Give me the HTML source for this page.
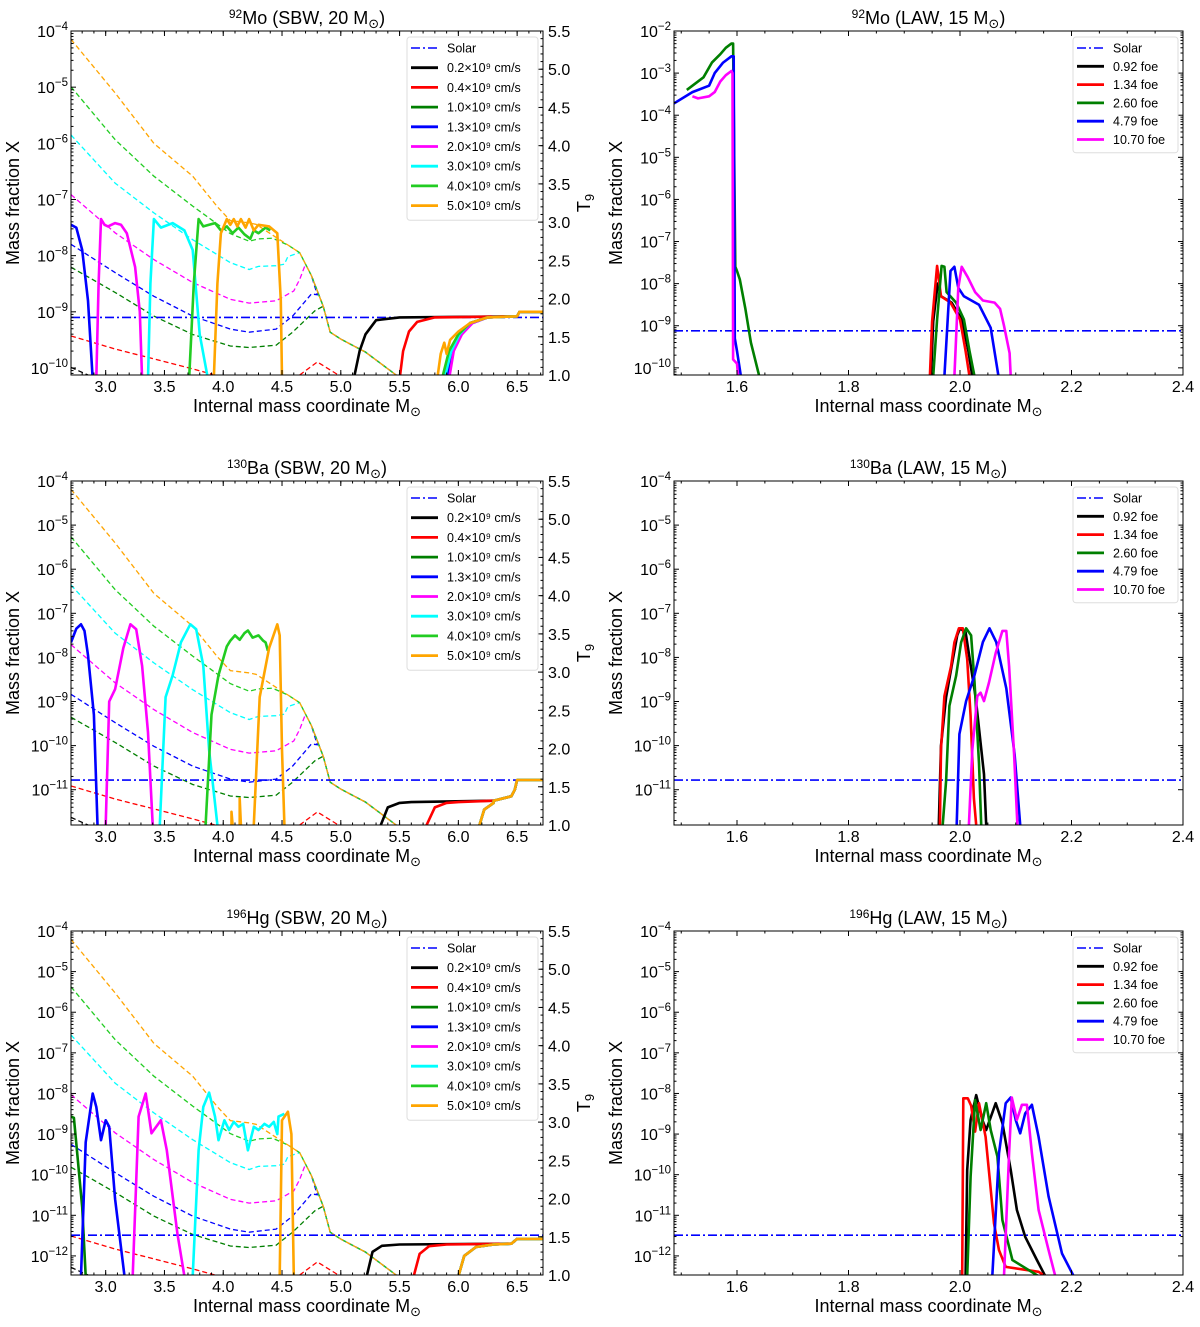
<!DOCTYPE html>
<html><head><meta charset="utf-8"><style>
body{margin:0;background:#fff}
svg{display:block;font-family:"Liberation Sans","DejaVu Sans",sans-serif}
</style></head><body>
<svg id="fig" width="1200" height="1327" viewBox="0 0 1200 1327" xmlns="http://www.w3.org/2000/svg"></svg>
<script>
// ---------- DATA ----------
const sbwLabels = ["0.2×10⁹ cm/s","0.4×10⁹ cm/s","1.0×10⁹ cm/s","1.3×10⁹ cm/s","2.0×10⁹ cm/s","3.0×10⁹ cm/s","4.0×10⁹ cm/s","5.0×10⁹ cm/s"];
const sbwColors = ["#000000","#ff0000","#007f00","#0000ff","#ff00ff","#00ffff","#22cc22","#ffa500"];
const lawLabels = ["0.92 foe","1.34 foe","2.60 foe","4.79 foe","10.70 foe"];
const lawColors = ["#000000","#ff0000","#007f00","#0000ff","#ff00ff"];
const solarLog = [-9.1, -10.78, -11.49];
const lawSolarLog = [-9.12, -10.78, -11.49];
const t9Ticks = [1.0,1.5,2.0,2.5,3.0,3.5,4.0,4.5,5.0,5.5];
const sbwXTicks = [3.0,3.5,4.0,4.5,5.0,5.5,6.0,6.5];
const lawXTicks = [1.6,1.8,2.0,2.2,2.4];

const t9Tail = [[4.75,2.3],[4.85,1.9],[4.91,1.56],[5.0,1.47],[5.21,1.30],[5.47,1.0]];
const t9Black = [[2.705,1.10],[2.85,1.0]];
const t9Red = [[2.705,1.51],[3.08,1.34],[3.41,1.21],[3.74,1.08],[3.93,1.0]];
const t9RedBump = [[4.65,1.0],[4.8,1.17],[4.98,1.0]];
const t9DGreen = [[2.705,2.41],[3.08,2.08],[3.41,1.77],[3.74,1.53],[4.06,1.38],[4.22,1.36],[4.45,1.39],[4.59,1.56],[4.78,1.84],[4.85,1.9]];
const t9Blue = [[2.705,2.71],[3.08,2.34],[3.41,2.03],[3.74,1.77],[4.06,1.60],[4.22,1.56],[4.45,1.60],[4.59,1.77],[4.75,2.06],[4.8,2.05]];
const t9Magenta = [[2.705,3.36],[3.08,2.86],[3.41,2.51],[3.74,2.21],[4.06,1.99],[4.22,1.94],[4.45,1.97],[4.6,2.1],[4.65,2.25]];
const t9Cyan = [[2.705,4.14],[3.08,3.51],[3.41,3.12],[3.74,2.77],[4.06,2.47],[4.22,2.38],[4.3,2.42],[4.45,2.43],[4.52,2.45],[4.55,2.55],[4.65,2.6]];
const t9LGreen = [[2.705,4.77],[3.08,4.08],[3.41,3.60],[3.74,3.21],[3.9,3.03],[4.06,2.85],[4.22,2.75],[4.3,2.78],[4.42,2.79],[4.55,2.7],[4.65,2.6]];
const t9Orange = [[2.705,5.39],[3.08,4.69],[3.41,4.03],[3.74,3.60],[3.95,3.2],[4.06,3.02],[4.22,2.99],[4.28,2.97],[4.4,2.85],[4.55,2.7],[4.65,2.6]];

const moEnd = [[6.5,-9.08],[6.52,-9.0],[6.72,-9.0]];
const moBlack = [[[5.11,-10.2],[5.16,-9.7],[5.21,-9.4],[5.3,-9.15],[5.5,-9.1]]];
const moRed = [[[2.5,-12]],[[5.5,-10.2],[5.53,-9.7],[5.58,-9.35],[5.65,-9.18],[5.8,-9.1]]];
const moDGreen = [[[5.87,-10.2],[5.93,-9.7],[6.0,-9.4],[6.1,-9.2],[6.25,-9.1]]];
const moBlue = [[[2.705,-7.45],[2.75,-7.5],[2.8,-7.9],[2.85,-8.8],[2.89,-10.2]],[[5.9,-10.2],[5.95,-9.7],[6.02,-9.4],[6.12,-9.2],[6.25,-9.1]]];
const moMagenta = [[[2.92,-10.2],[2.94,-8.5],[2.96,-7.35],[2.99,-7.45],[3.02,-7.48],[3.08,-7.42],[3.13,-7.45],[3.18,-7.6],[3.25,-8.2],[3.29,-9],[3.31,-10.2]],[[5.92,-10.2],[5.96,-9.7],[6.03,-9.4],[6.12,-9.2],[6.25,-9.1]]];
const moCyan = [[[3.36,-10.2],[3.38,-8.5],[3.41,-7.35],[3.47,-7.5],[3.57,-7.42],[3.67,-7.55],[3.74,-7.9],[3.8,-9.4],[3.87,-10.2]],[[5.88,-10.2],[5.94,-9.7],[6.01,-9.4],[6.1,-9.2],[6.25,-9.1]]];
const moLGreen = [[[3.71,-10.2],[3.75,-8.5],[3.79,-7.35],[3.83,-7.48],[3.88,-7.45],[3.93,-7.42],[3.98,-7.55],[4.03,-7.48],[4.08,-7.6],[4.13,-7.5],[4.18,-7.62],[4.23,-7.7],[4.26,-7.55],[4.3,-7.6],[4.36,-7.5],[4.4,-7.55]],[[5.86,-10.2],[5.92,-9.7],[6.0,-9.4],[6.1,-9.2],[6.25,-9.1]]];
const moOrange = [[[3.92,-10.2],[3.95,-8.5],[3.98,-7.6],[4.03,-7.35],[4.06,-7.45],[4.09,-7.35],[4.12,-7.48],[4.15,-7.35],[4.19,-7.5],[4.22,-7.35],[4.26,-7.55],[4.3,-7.45],[4.39,-7.48],[4.46,-7.6],[4.49,-8.8],[4.5,-10.2]],[[5.82,-10.2],[5.85,-9.75],[5.88,-9.55],[5.9,-9.75],[5.93,-9.5],[6.0,-9.35],[6.1,-9.2],[6.25,-9.1]]];

const baEnd = [[6.3,-11.25],[6.45,-11.15],[6.48,-11.0],[6.5,-10.78],[6.72,-10.78]];
const baLate = [[6.18,-11.8],[6.22,-11.45],[6.3,-11.3]];
const baBlack = [[[5.34,-11.8],[5.4,-11.4],[5.5,-11.3],[5.6,-11.28]]];
const baRed = [[[5.73,-11.8],[5.8,-11.4],[5.9,-11.3],[6.0,-11.28]]];
const baBlue = [[[2.705,-7.66],[2.75,-7.35],[2.79,-7.25],[2.82,-7.4],[2.85,-7.95],[2.9,-9.3],[2.93,-11.8]]];
const baMagenta = [[[3.0,-11.8],[3.03,-9.0],[3.08,-8.72],[3.15,-7.79],[3.21,-7.25],[3.26,-7.36],[3.31,-8.19],[3.36,-9.7],[3.4,-11.8]]];
const baCyan = [[[3.46,-11.8],[3.51,-8.9],[3.57,-8.4],[3.64,-7.66],[3.72,-7.25],[3.77,-7.36],[3.83,-8.19],[3.88,-10.1],[3.95,-11.8]]];
const baLGreen = [[[3.85,-11.8],[3.9,-9.3],[3.96,-8.4],[4.03,-7.75],[4.06,-7.62],[4.1,-7.5],[4.14,-7.6],[4.18,-7.45],[4.21,-7.39],[4.25,-7.55],[4.3,-7.5],[4.34,-7.62],[4.36,-7.66],[4.38,-7.85]]];
const baOrange = [[[4.07,-11.8],[4.07,-11.5],[4.08,-11.8]],[[4.14,-11.8],[4.14,-11.2],[4.15,-11.8]],[[4.26,-11.8],[4.31,-8.9],[4.39,-7.79],[4.46,-7.25],[4.48,-7.5],[4.5,-10.1],[4.52,-11.8]]];

const hgEnd = [[6.45,-11.7],[6.5,-11.58],[6.72,-11.58]];
const hgLate = [[6.0,-12.5],[6.05,-12.0],[6.15,-11.78],[6.3,-11.72]];
const hgBlack = [[[5.22,-12.5],[5.27,-11.9],[5.35,-11.75],[5.5,-11.72]]];
const hgRed = [[[5.62,-12.5],[5.67,-11.95],[5.75,-11.76],[5.9,-11.72]]];
const hgDGreen = [[[2.705,-8.57],[2.73,-8.6],[2.76,-9.55],[2.8,-10.8],[2.83,-12.5]]];
const hgBlue = [[[2.79,-12.5],[2.83,-9.2],[2.89,-8.0],[2.92,-8.33],[2.96,-9.15],[3.0,-8.66],[3.03,-8.82],[3.08,-10.6],[3.16,-12.5]]];
const hgMagenta = [[[3.23,-12.5],[3.28,-8.57],[3.34,-8.0],[3.39,-8.98],[3.47,-8.66],[3.52,-9.4],[3.61,-11.45],[3.67,-12.5]]];
const hgCyan = [[[3.74,-12.5],[3.79,-9.4],[3.83,-8.33],[3.88,-7.98],[3.93,-8.57],[3.96,-9.15],[4.01,-8.66],[4.05,-8.9],[4.09,-8.7],[4.13,-8.82],[4.17,-8.75],[4.21,-9.4],[4.26,-8.82],[4.3,-8.9],[4.35,-8.75],[4.39,-8.82],[4.43,-8.7],[4.46,-9.0],[4.47,-8.57],[4.52,-8.5]]];
const hgLGreen = [[[2.5,-14]]];
const hgOrange = [[[4.48,-12.5],[4.5,-8.66],[4.55,-8.45],[4.58,-9.0],[4.6,-12.5]]];

const lmBlack = [[[1.948,-10.2],[1.952,-8.9],[1.96,-8.0],[1.966,-8.3],[1.985,-8.45],[2.003,-8.85],[2.015,-9.6],[2.022,-10.2]]];
const lmRed = [[[1.946,-10.2],[1.95,-8.9],[1.959,-7.58],[1.966,-8.3],[1.983,-8.45],[2.0,-8.85],[2.01,-9.6],[2.017,-10.2]]];
const lmGreen = [[[1.51,-3.4],[1.54,-3.1],[1.555,-2.75],[1.57,-2.55],[1.58,-2.4],[1.59,-2.3],[1.593,-2.3],[1.597,-7.6],[1.6,-7.7],[1.605,-7.9],[1.615,-8.6],[1.625,-9.4],[1.64,-10.2]],[[1.952,-10.2],[1.959,-8.85],[1.967,-7.58],[1.972,-7.6],[1.976,-8.2],[1.993,-8.45],[2.007,-8.85],[2.017,-9.6],[2.026,-10.2]]];
const lmBlue = [[[1.487,-3.72],[1.52,-3.45],[1.55,-3.3],[1.56,-3.0],[1.575,-2.75],[1.59,-2.6],[1.594,-2.6],[1.596,-9.3],[1.6,-9.6],[1.607,-10.2]],[[1.972,-10.2],[1.976,-9.3],[1.983,-7.7],[1.99,-7.6],[1.997,-8.1],[2.007,-8.3],[2.034,-8.5],[2.055,-9.05],[2.069,-10.2]]];
const lmMagenta = [[[1.52,-3.55],[1.53,-3.6],[1.55,-3.55],[1.56,-3.45],[1.57,-3.2],[1.58,-3.05],[1.59,-2.95],[1.592,-3.0],[1.593,-9.8],[1.6,-9.9],[1.602,-10.2]],[[1.99,-10.2],[1.997,-8.1],[2.003,-7.6],[2.014,-7.85],[2.027,-8.2],[2.041,-8.4],[2.062,-8.45],[2.072,-8.6],[2.079,-9.0],[2.089,-9.65],[2.091,-10.2]]];

const lbBlack = [[[1.962,-11.8],[1.966,-10.0],[1.975,-8.9],[1.985,-8.2],[1.995,-7.5],[2.0,-7.34],[2.01,-7.43],[2.028,-8.9],[2.043,-10.65],[2.047,-11.8]]];
const lbRed = [[[1.964,-11.8],[1.966,-10.08],[1.972,-8.88],[1.984,-8.2],[1.99,-7.66],[1.998,-7.34],[2.005,-7.34],[2.013,-8.04],[2.019,-9.33],[2.025,-11.2],[2.029,-11.8]]];
const lbGreen = [[[1.969,-11.8],[1.975,-10.8],[1.981,-9.1],[1.993,-8.42],[2.002,-7.66],[2.011,-7.34],[2.02,-7.5],[2.026,-8.55],[2.034,-10.4],[2.038,-11.8]]];
const lbBlue = [[[1.994,-11.8],[1.999,-9.74],[2.011,-8.99],[2.026,-8.4],[2.041,-7.65],[2.053,-7.34],[2.065,-7.65],[2.083,-8.7],[2.098,-10.2],[2.108,-11.8]]];
const lbMagenta = [[[2.016,-11.8],[2.022,-10.1],[2.031,-8.88],[2.037,-8.8],[2.043,-8.99],[2.052,-8.57],[2.064,-7.9],[2.076,-7.4],[2.083,-7.4],[2.088,-8.2],[2.097,-10.2],[2.103,-11.8]]];

const lhBlack = [[[2.01,-12.5],[2.013,-9.88],[2.019,-8.65],[2.029,-8.04],[2.04,-8.65],[2.047,-8.9],[2.064,-8.24],[2.076,-8.73],[2.091,-9.88],[2.102,-10.87],[2.117,-11.53],[2.138,-12.1],[2.153,-12.5]]];
const lhRed = [[[2.004,-12.5],[2.006,-8.12],[2.014,-8.12],[2.02,-8.3],[2.027,-8.94],[2.034,-8.24],[2.046,-9.07],[2.053,-10.05],[2.061,-11.2],[2.07,-11.86],[2.082,-12.27],[2.141,-12.39],[2.153,-12.5]]];
const lhGreen = [[[2.013,-12.5],[2.019,-10.05],[2.027,-8.16],[2.037,-8.9],[2.047,-8.24],[2.055,-8.9],[2.067,-9.55],[2.076,-11.12],[2.094,-12.1],[2.141,-12.5]]];
const lhBlue = [[[2.058,-12.5],[2.07,-9.47],[2.082,-8.24],[2.091,-8.1],[2.1,-8.65],[2.108,-8.98],[2.117,-8.49],[2.129,-8.28],[2.141,-9.07],[2.159,-10.54],[2.183,-11.94],[2.204,-12.5]]];
const lhMagenta = [[[2.079,-12.5],[2.088,-9.47],[2.093,-8.1],[2.102,-8.65],[2.111,-8.28],[2.12,-8.28],[2.129,-9.47],[2.141,-10.87],[2.159,-11.86],[2.171,-12.5]]];

// ---------- DRAWING ----------
const NS="http://www.w3.org/2000/svg";
const svg=document.getElementById('fig');
function mk(tag,attrs,parent){const e=document.createElementNS(NS,tag);for(const k in attrs)e.setAttribute(k,attrs[k]);(parent||svg).appendChild(e);return e;}
let clipId=0;

function withTail(s){return s.concat(t9Tail);}
const t9Series=[[t9Black],[t9Red,t9RedBump],[withTail(t9DGreen)],[withTail(t9Blue)],[t9Magenta.concat([[4.7,2.45]],t9Tail.slice(0))],[withTail(t9Cyan)],[withTail(t9LGreen)],[withTail(t9Orange)]];

function expLabel(g,x,y,e,anchor){
  const t=mk('text',{x:x,y:y,'font-size':16,'text-anchor':anchor||'end',fill:'#000'},g);
  
  
  t.appendChild(document.createTextNode('10'));
  const s=mk('tspan',{dy:-7,'font-size':11.5},t);s.textContent='−'+e;
  return t;
}

function panel(cfg){
  const g=mk('g',{});
  
  
  const {x0,x1,y0,y1,xmin,xmax,lmin,lmax}=cfg;
  const sx=v=>x0+(v-xmin)/(xmax-xmin)*(x1-x0);
  const sy=l=>y0+(lmax-l)/(lmax-lmin)*(y1-y0);
  const st=t=>y1-(t-1.0)/4.5*(y1-y0);
  const id='c'+(clipId++);
  const cp=mk('clipPath',{id:id},g);mk('rect',{x:x0,y:y0,width:x1-x0,height:y1-y0},cp);
  const plot=mk('g',{'clip-path':'url(#'+id+')'},g);
  if(cfg.t9){
    t9Series.forEach((segs,i)=>{segs.forEach(seg=>{
      const p=mk('path',{d:seg.map((q,j)=>(j?'L':'M')+sx(q[0]).toFixed(1)+' '+st(q[1]).toFixed(1)).join(''),fill:'none',stroke:sbwColors[i],'stroke-width':1.3,'stroke-dasharray':'5,3'},plot);
      
      
    });});
  }
  const sl=mk('line',{x1:x0,x2:x1,y1:sy(cfg.solar),y2:sy(cfg.solar),stroke:'#0000ff','stroke-width':1.6,'stroke-dasharray':'9,3,2,3'},plot);
  
  
  cfg.series.forEach((segs,i)=>{segs.forEach(seg=>{
    if(seg.length<2)return;
    const p=mk('path',{d:seg.map((q,j)=>(j?'L':'M')+sx(q[0]).toFixed(1)+' '+sy(q[1]).toFixed(1)).join(''),fill:'none',stroke:cfg.colors[i],'stroke-width':2.6,'stroke-linejoin':'round'},plot);
    
    
  });});
  const fr=mk('rect',{x:x0,y:y0,width:x1-x0,height:y1-y0,fill:'none',stroke:'#000','stroke-width':1},g);
  
  
  cfg.xticks.forEach(v=>{const x=sx(v);
    mk('line',{x1:x,x2:x,y1:y1,y2:y1-5,stroke:'#000'},g);mk('line',{x1:x,x2:x,y1:y0,y2:y0+5,stroke:'#000'},g);
    const t=mk('text',{x:x,y:y1+17,'font-size':16,'text-anchor':'middle'},g);
    
    
    t.textContent=v.toFixed(1);
  });
  for(let v=Math.ceil(xmin/cfg.xminor)*cfg.xminor;v<xmax;v+=cfg.xminor){const x=sx(v);
    mk('line',{x1:x,x2:x,y1:y1,y2:y1-2.5,stroke:'#000'},g);mk('line',{x1:x,x2:x,y1:y0,y2:y0+2.5,stroke:'#000'},g);}
  for(let e=Math.ceil(lmin);e<=lmax;e++){const y=sy(e);
    mk('line',{x1:x0,x2:x0+5,y1:y,y2:y,stroke:'#000'},g);
    if(!cfg.t9)mk('line',{x1:x1,x2:x1-5,y1:y,y2:y,stroke:'#000'},g);
    expLabel(g,x0-3,y+6,-e);
    for(let m=2;m<10;m++){const yy=sy(e+Math.log10(m));if(yy>y1||yy<y0)continue;
      mk('line',{x1:x0,x2:x0+2.5,y1:yy,y2:yy,stroke:'#000'},g);
      if(!cfg.t9)mk('line',{x1:x1,x2:x1-2.5,y1:yy,y2:yy,stroke:'#000'},g);}
    if(e-1<lmin){for(let m=2;m<10;m++){const yy=sy(e-1+Math.log10(m));if(yy>y1)continue;mk('line',{x1:x0,x2:x0+2.5,y1:yy,y2:yy,stroke:'#000'},g);}}
  }
  if(cfg.t9){
    t9Ticks.forEach(v=>{const y=st(v);mk('line',{x1:x1,x2:x1-5,y1:y,y2:y,stroke:'#000'},g);
      const t=mk('text',{x:x1+5,y:y+6,'font-size':16},g);
      
      
      t.textContent=v.toFixed(1);});
    for(let v=1.1;v<5.5;v+=0.1){const y=st(v);mk('line',{x1:x1,x2:x1-2.5,y1:y,y2:y,stroke:'#000'},g);}
    const tl=mk('text',{x:0,y:0,'font-size':18,transform:'translate('+(x1+47)+','+((y0+y1)/2)+') rotate(-90)','text-anchor':'middle'},g);
    
    
    tl.appendChild(document.createTextNode('T'));const s9=mk('tspan',{dy:4,'font-size':13},tl);s9.textContent='9';
  }
  const yl=mk('text',{x:0,y:0,'font-size':18,transform:'translate('+(x0-52)+','+((y0+y1)/2)+') rotate(-90)','text-anchor':'middle'},g);
  
  
  yl.textContent='Mass fraction X';
  const xl=mk('text',{x:(x0+x1)/2,y:y1+37,'font-size':18,'text-anchor':'middle'},g);
  
  
  xl.appendChild(document.createTextNode('Internal mass coordinate M'));const ms=mk('tspan',{dy:4,'font-size':13},xl);ms.textContent='⊙';
  const tt=mk('text',{x:(x0+x1)/2,y:y0-7,'font-size':18,'text-anchor':'middle'},g);
  
  
  const sup=mk('tspan',{dy:-6,'font-size':12},tt);sup.textContent=cfg.iso;
  const body=mk('tspan',{dy:6},tt);body.textContent=cfg.el+' ('+cfg.model+', '+cfg.mass+' M';
  const sun=mk('tspan',{dy:4,'font-size':13},tt);sun.textContent='⊙';
  const cl=mk('tspan',{dy:-4},tt);cl.textContent=')';
  const lg=mk('g',{},g);
  
  
  const n=cfg.labels.length+1, rowH=cfg.t9?19.7:18.3;
  const lw=cfg.t9?131:105, lx=x1-lw-5, ly=y0+6;
  mk('rect',{x:lx,y:ly,width:lw,height:n*rowH+6,rx:3,fill:'#fff',stroke:'#ddd','stroke-width':1},lg);
  const ent=(i,col,txt,dash)=>{const y=ly+11+i*rowH;
    const e=mk('g',{},lg);
    
    
    mk('line',{x1:lx+4,x2:lx+31,y1:y,y2:y,stroke:col,'stroke-width':dash?1.6:2.8,'stroke-dasharray':dash?'9,3,2,3':'none'},e);
    const t=mk('text',{x:lx+40,y:y+4.5,'font-size':12.5},e);t.textContent=txt;};
  ent(0,'#0000ff','Solar',true);
  cfg.labels.forEach((l,i)=>ent(i+1,cfg.colors[i],cfg.t9?l:(' '+l),false));
}

const rows=[{y0:31,y1:375},{y0:481,y1:825},{y0:931,y1:1275}];
const lmins=[-10.125,-11.8,-12.47];
const names=[['92','Mo'],['130','Ba'],['196','Hg']];
const sbwData=[
 [moBlack,moRed,moDGreen,moBlue,moMagenta,moCyan,moLGreen,moOrange].map(s=>s.map(seg=>seg.length>1&&seg[0][0]>5?seg.concat(moEnd):seg)),
 [baBlack,baRed,[],baBlue,baMagenta,baCyan,baLGreen,baOrange].map((s,i)=>{const o=s.map(seg=>seg.length>1&&seg[0][0]>5?seg.concat(baEnd):seg);if(i>=2)o.push(baLate.concat(baEnd));return o;}),
 [hgBlack,hgRed,hgDGreen,hgBlue,hgMagenta,hgCyan,hgLGreen,hgOrange].map((s,i)=>{const o=s.map(seg=>seg.length>1&&seg[0][0]>5?seg.concat(hgEnd):seg);if(i>=2)o.push(hgLate.concat(hgEnd));return o;})
];
const lawData=[[lmBlack,lmRed,lmGreen,lmBlue,lmMagenta],[lbBlack,lbRed,lbGreen,lbBlue,lbMagenta],[lhBlack,lhRed,lhGreen,lhBlue,lhMagenta]];
const lawLmax=[-2,-4,-4], lawLmin=[-10.17,-11.8,-12.47];

rows.forEach((r,i)=>{
  panel({name:'sbw-panel-'+names[i][1].toLowerCase(),x0:71,x1:543,y0:r.y0,y1:r.y1,xmin:2.705,xmax:6.72,lmin:lmins[i],lmax:-4,
    xticks:sbwXTicks,xminor:0.1,t9:true,solar:solarLog[i],series:sbwData[i],colors:sbwColors,labels:sbwLabels,
    iso:names[i][0],el:names[i][1],model:'SBW',mass:'20'});
  panel({name:'law-panel-'+names[i][1].toLowerCase(),x0:674,x1:1183,y0:r.y0,y1:r.y1,xmin:1.487,xmax:2.4,lmin:lawLmin[i],lmax:lawLmax[i],
    xticks:lawXTicks,xminor:0.05,t9:false,solar:lawSolarLog[i],series:lawData[i],colors:lawColors,labels:lawLabels,
    iso:names[i][0],el:names[i][1],model:'LAW',mass:'15'});
});
</script>
</body></html>
